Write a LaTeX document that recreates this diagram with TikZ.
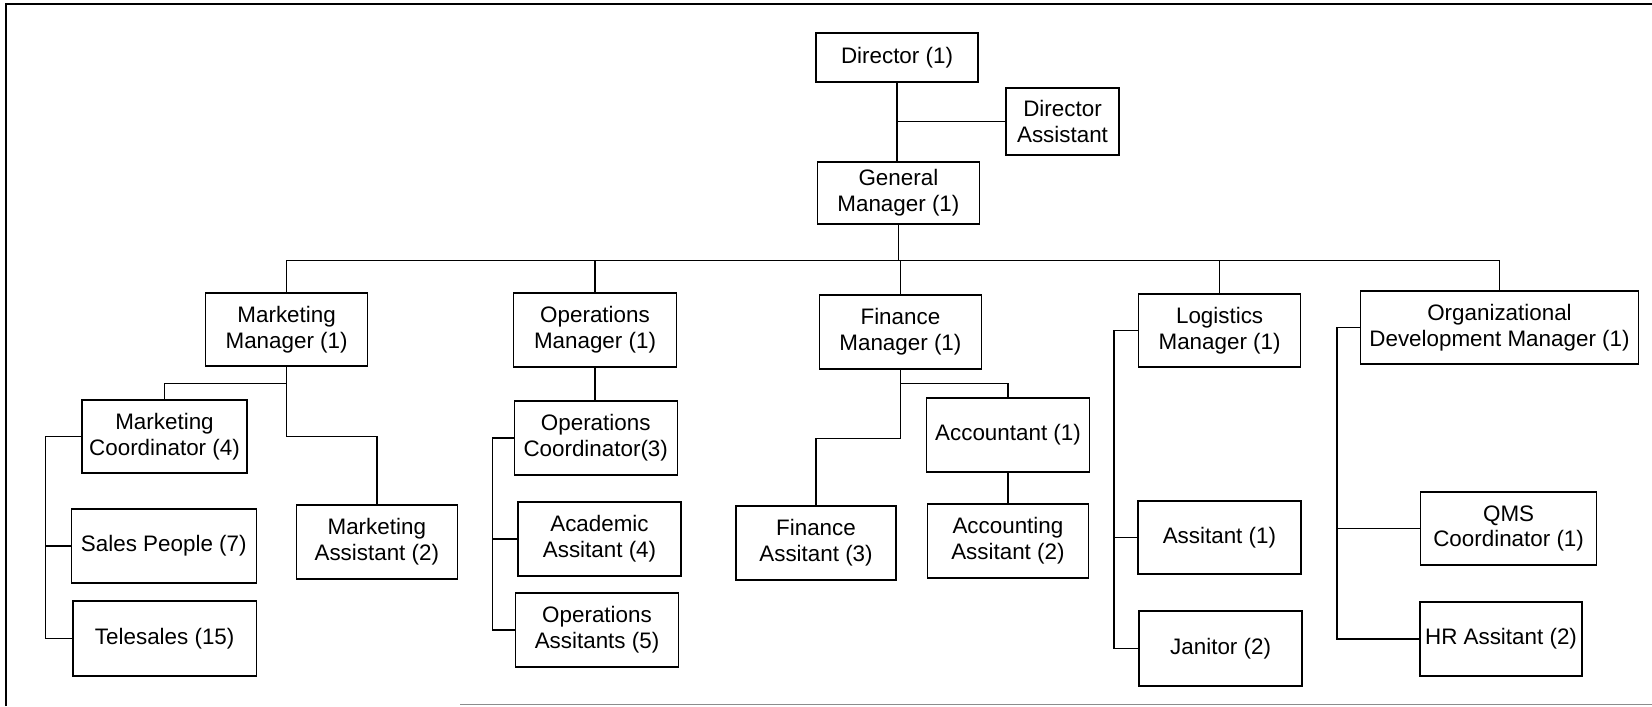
\documentclass[tikz,border=0pt]{standalone}
\usepackage{fontspec}
\setmainfont{Liberation Sans}
\usetikzlibrary{positioning}
\tikzset{
  post/.style={
    draw,
    rectangle,
    line width=0.7pt,
    inner sep=2pt,
    align=center,
    font=\fontsize{11.2}{12.9}\selectfont,
  },
  post size/.style 2 args={
    post,
    minimum width=#1*0.5pt,
    minimum height=#2*0.5pt
  },
  link/.style={
    line width=0.7pt
  }
}
\begin{document}
\begin{tikzpicture}[x=0.5pt, y=-0.5pt]
  \useasboundingbox (0,0) rectangle (1652,706);
  % page frame, open on the right
  \draw[line width=0.8pt] (6,706) -- (6,4) -- (1652,4);
  \draw[line width=0.6pt, black!45] (460,704.5) -- (1652,704.5);

  % top of the chart
  \node[post size={162}{49}] (dir) at (897,57.5) {Director (1)};
  \node[post size={113}{67}] (dirasst) at (1062.5,121.5) {Director\\Assistant};
  \node[post size={162}{62}] (gm) at (898.4,193) {General\\Manager (1)};

  % managers
  \node[post size={162}{73}] (mm) at (286.6,329.5) {Marketing\\Manager (1)};
  \node[post size={163}{74}] (om) at (595,330) {Operations\\Manager (1)};
  \node[post size={162}{74}] (fm) at (900.4,332) {Finance\\Manager (1)};
  \node[post size={162}{73}] (lm) at (1219.6,330.5) {Logistics\\Manager (1)};
  \node[post size={278}{73}] (odm) at (1499.5,327.5) {Organizational\\Development Manager (1)};

  % marketing staff
  \node[post size={165}{73}] (mc) at (164.5,436.5) {Marketing\\Coordinator (4)};
  \node[post size={185}{74}] (sales) at (163.8,546) {Sales People (7)};
  \node[post size={183.5}{75}] (tele) at (164.7,638.5) {Telesales (15)};
  \node[post size={161}{74}] (ma) at (376.8,542) {Marketing\\Assistant (2)};

  % operations staff
  \node[post size={163}{74}] (oc) at (595.7,438) {Operations\\Coordinator(3)};
  \node[post size={163}{74}] (acad) at (599.5,539) {Academic\\Assitant (4)};
  \node[post size={163}{74}] (opsa) at (597,630) {Operations\\Assitants (5)};

  % finance staff
  \node[post size={160}{74}] (fa) at (816,543) {Finance\\Assitant (3)};
  \node[post size={162.5}{74}] (acct) at (1008,435) {Accountant (1)};
  \node[post size={161}{74}] (accta) at (1007.9,541) {Accounting\\Assitant (2)};

  % logistics staff
  \node[post size={163}{73}] (lasst) at (1219.4,537.5) {Assitant (1)};
  \node[post size={163}{75}] (jan) at (1220.6,648.5) {Janitor (2)};

  % organizational development staff
  \node[post size={176}{73}] (qms) at (1508.6,528.5) {QMS\\Coordinator (1)};
  \node[post size={162}{74}] (hr) at (1501,639) {HR Assitant (2)};

  % links
  \draw[link] (dir.south) -- (dir.south |- gm.north);
  \draw[link] (dirasst.west) -- (dirasst.west -| dir.south);
  \draw[link] (gm.south) -- ++(0,36) coordinate (bus);
  \draw[link] (mm.north) |- (bus) -| (odm.north);
  \foreach \n in {om,fm,lm}
    \draw[link] (\n.north) -- (\n.north |- bus);

  \draw[link] (mm.south) -- ++(0,17) -| (mc.north);
  \draw[link] (mm.south) -- ++(0,70) -| (ma.north);
  \draw[link] (mc.west) -- ++(-36,0) coordinate (mcs) |- (tele.west);
  \draw[link] (sales.west) -- (sales.west -| mcs);

  \draw[link] (om.south) -- (om.south |- oc.north);
  \draw[link] (oc.west) -- ++(-21,0) coordinate (ocs) |- (opsa.west);
  \draw[link] (acad.west) -- (acad.west -| ocs);

  \draw[link] (fm.south) -- ++(0,14) -| (acct.north);
  \draw[link] (fm.south) -- ++(0,69) -| (fa.north);
  \draw[link] (acct.south) -- (acct.south |- accta.north);

  \draw[link] (lm.west) -- ++(-24,0) coordinate (lms) |- (jan.west);
  \draw[link] (lasst.west) -- (lasst.west -| lms);

  \draw[link] (odm.west) -- ++(-23,0) coordinate (odms) |- (hr.west);
  \draw[link] (qms.west) -- (qms.west -| odms);
\end{tikzpicture}
\end{document}
